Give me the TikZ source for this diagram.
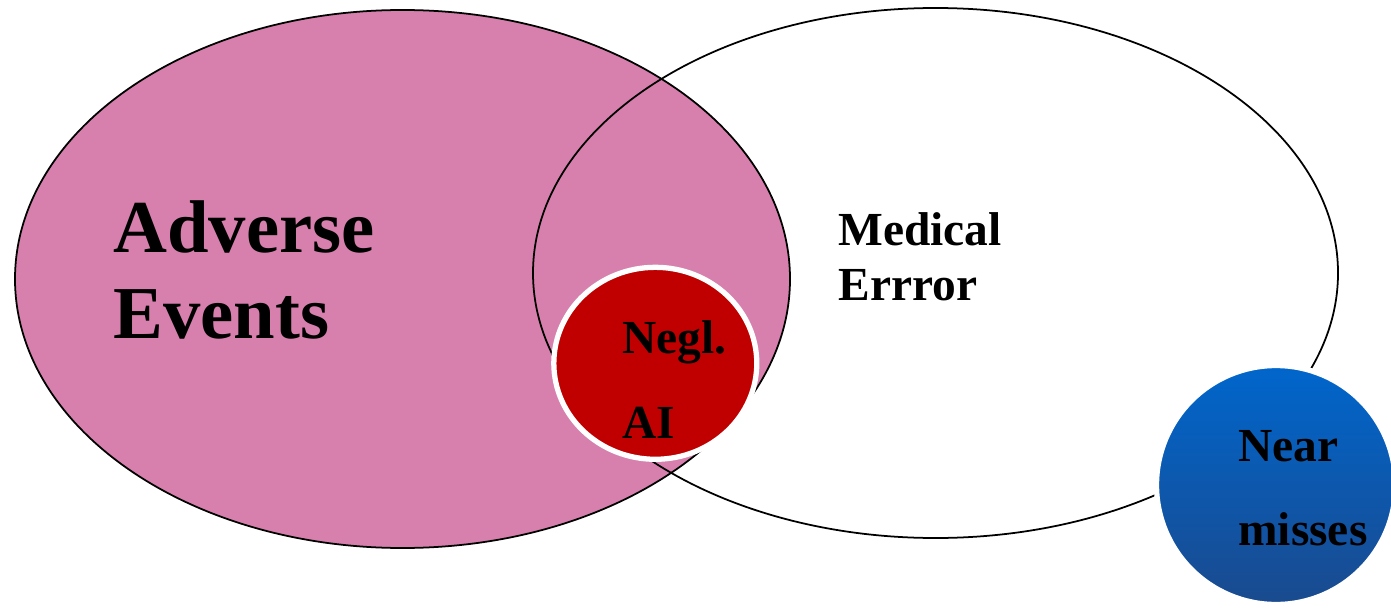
\documentclass[tikz,border=0pt]{standalone}
\usepackage{fontspec}
\setmainfont{Liberation Serif}
\usepackage{tikz}
\usetikzlibrary{shapes.geometric,shadows}
\definecolor{eventpink}{HTML}{D880AD}
\definecolor{neglred}{HTML}{C00000}
\definecolor{neartop}{HTML}{0066CC}
\definecolor{nearbottom}{HTML}{1A4A8E}
\tikzset{
  setline/.style={draw=black, line width=1pt},
  bubble/.style={draw=white, line width=3pt, inner sep=0pt,
    drop shadow={opacity=0.45, shadow xshift=0.6pt, shadow yshift=-0.9pt}},
  biglabel/.style={anchor=base west, inner sep=0pt, font=\fontsize{42.5}{48}\selectfont\bfseries},
  label/.style={anchor=base west, inner sep=0pt, font=\fontsize{27}{30}\selectfont\bfseries}
}

\begin{document}
\begin{tikzpicture}[x=0.02cm, y=-0.02cm]
        \useasboundingbox (0,0) rectangle (1391,611);

            % Adverse events set
            \filldraw[setline, fill=eventpink] (402.5,279) ellipse [x radius=387.5, y radius=269];

            % Medical error set, outline only
            \draw[setline] (935.5,273) ellipse [x radius=402.5, y radius=265];

            % Negligent adverse events
            \node[bubble, ellipse, fill=neglred, minimum width=4.06cm, minimum height=3.84cm] (negl) at (655.3,363.3) {};

            % Near misses
            \node[bubble, circle, top color=neartop, bottom color=nearbottom, minimum size=4.78cm] (near) at (1276,485) {};

            % Labels
            \node[biglabel] (adv1) at (113,252) {Adverse};
            \node[biglabel] (adv2) at (113,338) {Events};
            \node[label] (med1) at (838,245) {Medical};
            \node[label] (med2) at (838,300) {Errror};
            \node[label] (negl1) at (622,353) {Negl.};
            \node[label] (negl2) at (622,438) {AI};
            \node[label] (near1) at (1238,461) {Near};
            \node[label] (near2) at (1238,545) {misses};

        \end{tikzpicture}
\end{document}
